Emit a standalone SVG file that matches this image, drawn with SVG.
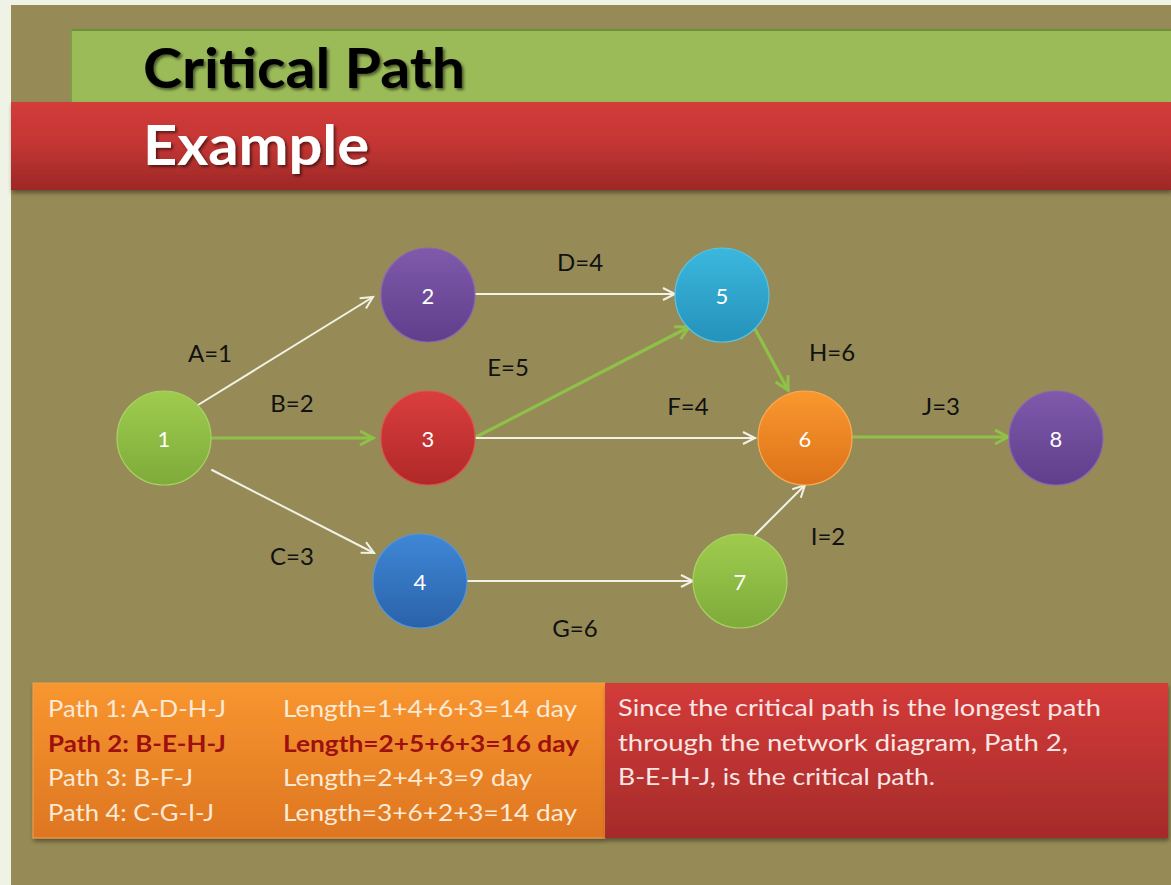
<svg xmlns="http://www.w3.org/2000/svg" width="1171" height="885" viewBox="0 0 1171 885">
  <style>
    .title { font-family: Lato, "Liberation Sans", sans-serif; font-weight: bold; font-size: 56px; }
    .edge-label { font-family: Lato, "Liberation Sans", sans-serif; font-size: 24px; fill: #111111; text-anchor: middle; }
    .node-label { font-family: Lato, "Liberation Sans", sans-serif; font-size: 22px; fill: #ffffff; text-anchor: middle; dominant-baseline: central; }
    .panel-text { font-family: Lato, "Liberation Sans", sans-serif; font-size: 23px; fill: #fce9d6; }
    .panel-bold { font-family: Lato, "Liberation Sans", sans-serif; font-size: 23px; font-weight: bold; fill: #9c1010; }
    .note-text { font-family: Lato, "Liberation Sans", sans-serif; font-size: 23px; fill: #f9e6e4; }
    .edge { fill: none; stroke-linecap: round; }
    .edge-plain { stroke: #f2f1e6; stroke-width: 2; marker-end: url(#arrowWhite); }
    .edge-crit { stroke: #8fc14a; stroke-width: 3.2; marker-end: url(#arrowGreen); }
    .node circle { stroke-width: 1.2; }
  </style>
  <defs>
    <linearGradient id="gRedBanner" x1="0" y1="0" x2="0" y2="1">
      <stop offset="0" stop-color="#d23c3a"/>
      <stop offset="0.45" stop-color="#c53634"/>
      <stop offset="1" stop-color="#9d2826"/>
    </linearGradient>
    <linearGradient id="gOrangeBox" x1="0" y1="0" x2="0" y2="1">
      <stop offset="0" stop-color="#f8962f"/>
      <stop offset="1" stop-color="#de7621"/>
    </linearGradient>
    <linearGradient id="gRedBox" x1="0" y1="0" x2="0" y2="1">
      <stop offset="0" stop-color="#d43b39"/>
      <stop offset="1" stop-color="#a52b2a"/>
    </linearGradient>
    <linearGradient id="nGreen" x1="0" y1="0" x2="0" y2="1">
      <stop offset="0" stop-color="#9fcc4e"/>
      <stop offset="1" stop-color="#7eab3a"/>
    </linearGradient>
    <linearGradient id="nPurple" x1="0" y1="0" x2="0" y2="1">
      <stop offset="0" stop-color="#8059ab"/>
      <stop offset="1" stop-color="#5f3f8b"/>
    </linearGradient>
    <linearGradient id="nRed" x1="0" y1="0" x2="0" y2="1">
      <stop offset="0" stop-color="#da3e3d"/>
      <stop offset="1" stop-color="#b02829"/>
    </linearGradient>
    <linearGradient id="nBlue" x1="0" y1="0" x2="0" y2="1">
      <stop offset="0" stop-color="#3f87d6"/>
      <stop offset="1" stop-color="#2a62a9"/>
    </linearGradient>
    <linearGradient id="nCyan" x1="0" y1="0" x2="0" y2="1">
      <stop offset="0" stop-color="#3bb7dd"/>
      <stop offset="1" stop-color="#2592bb"/>
    </linearGradient>
    <linearGradient id="nOrange" x1="0" y1="0" x2="0" y2="1">
      <stop offset="0" stop-color="#fa982f"/>
      <stop offset="1" stop-color="#dc7219"/>
    </linearGradient>
    <filter id="textShadow" x="-10%" y="-20%" width="120%" height="150%">
      <feGaussianBlur in="SourceAlpha" stdDeviation="1.6"/>
      <feOffset dx="1.5" dy="2" result="b"/>
      <feComponentTransfer><feFuncA type="linear" slope="0.55"/></feComponentTransfer>
      <feMerge><feMergeNode/><feMergeNode in="SourceGraphic"/></feMerge>
    </filter>
    <filter id="boxShadow" x="-5%" y="-10%" width="110%" height="130%">
      <feGaussianBlur in="SourceAlpha" stdDeviation="2"/>
      <feOffset dx="1" dy="3"/>
      <feComponentTransfer><feFuncA type="linear" slope="0.4"/></feComponentTransfer>
      <feMerge><feMergeNode/><feMergeNode in="SourceGraphic"/></feMerge>
    </filter>
    <marker id="arrowWhite" markerUnits="userSpaceOnUse" markerWidth="18" markerHeight="18" refX="15" refY="9" orient="auto">
      <path d="M3,3 L15,9 L3,15" fill="none" stroke="#f2f1e6" stroke-width="2" stroke-linejoin="miter"/>
    </marker>
    <marker id="arrowGreen" markerUnits="userSpaceOnUse" markerWidth="20" markerHeight="20" refX="16" refY="10" orient="auto">
      <path d="M3,3 L16,10 L3,17" fill="none" stroke="#8fc14a" stroke-width="3" stroke-linejoin="miter"/>
    </marker>
  </defs>

  <!-- page and slide background -->
  <rect x="0" y="0" width="1171" height="885" fill="#eef3e6"/>
  <rect x="11" y="5" width="1160" height="880" fill="#968b56"/>

  <!-- title banners -->
  <g id="title">
    <rect x="70" y="29" width="1101" height="74" fill="#9bbb59"/>
    <rect x="70" y="29" width="1101" height="2" fill="#6f8e3c"/>
    <rect x="70" y="29" width="2" height="74" fill="#7f9d46"/>
    <rect x="11" y="102" width="1160" height="88" fill="url(#gRedBanner)" filter="url(#boxShadow)"/>
    <text class="title" x="143" y="88" fill="#000000" textLength="322" lengthAdjust="spacingAndGlyphs" filter="url(#textShadow)">Critical Path</text>
    <text class="title" x="143" y="165" fill="#ffffff" textLength="226" lengthAdjust="spacingAndGlyphs" filter="url(#textShadow)">Example</text>
  </g>

  <!-- activity arrows -->
  <g id="connectors">
    <line class="edge edge-plain" x1="198" y1="405" x2="373" y2="297"/>
    <line class="edge edge-crit" x1="211" y1="438" x2="373" y2="438"/>
    <line class="edge edge-plain" x1="212" y1="470" x2="374" y2="553"/>
    <line class="edge edge-plain" x1="475" y1="294" x2="675" y2="294"/>
    <line class="edge edge-crit" x1="476" y1="437" x2="689" y2="327"/>
    <line class="edge edge-plain" x1="476" y1="438" x2="755" y2="438"/>
    <line class="edge edge-crit" x1="755" y1="329" x2="788" y2="390"/>
    <line class="edge edge-plain" x1="467" y1="581" x2="693" y2="581"/>
    <line class="edge edge-plain" x1="755" y1="535" x2="805" y2="485"/>
    <line class="edge edge-crit" x1="852" y1="437" x2="1008" y2="437"/>

    <text class="edge-label" x="210" y="362">A=1</text>
    <text class="edge-label" x="292" y="412">B=2</text>
    <text class="edge-label" x="292" y="565">C=3</text>
    <text class="edge-label" x="580" y="271">D=4</text>
    <text class="edge-label" x="508" y="376">E=5</text>
    <text class="edge-label" x="688" y="415">F=4</text>
    <text class="edge-label" x="575" y="637">G=6</text>
    <text class="edge-label" x="832" y="361">H=6</text>
    <text class="edge-label" x="828" y="545">I=2</text>
    <text class="edge-label" x="941" y="415">J=3</text>
  </g>

  <!-- event nodes -->
  <g id="node1" class="node">
    <circle cx="164" cy="438" r="47" fill="url(#nGreen)" stroke="#a8d264"/>
    <text class="node-label" x="164" y="438">1</text>
  </g>
  <g id="node2" class="node">
    <circle cx="428" cy="295" r="47" fill="url(#nPurple)" stroke="#8a66b2"/>
    <text class="node-label" x="428" y="295">2</text>
  </g>
  <g id="node3" class="node">
    <circle cx="428" cy="438" r="47" fill="url(#nRed)" stroke="#de5250"/>
    <text class="node-label" x="428" y="438">3</text>
  </g>
  <g id="node4" class="node">
    <circle cx="420" cy="581" r="47" fill="url(#nBlue)" stroke="#5596da"/>
    <text class="node-label" x="420" y="581">4</text>
  </g>
  <g id="node5" class="node">
    <circle cx="722" cy="295" r="47" fill="url(#nCyan)" stroke="#5cc3e2"/>
    <text class="node-label" x="722" y="295">5</text>
  </g>
  <g id="node6" class="node">
    <circle cx="805" cy="438" r="47" fill="url(#nOrange)" stroke="#fbab55"/>
    <text class="node-label" x="805" y="438">6</text>
  </g>
  <g id="node7" class="node">
    <circle cx="740" cy="581" r="47" fill="url(#nGreen)" stroke="#a8d264"/>
    <text class="node-label" x="740" y="581">7</text>
  </g>
  <g id="node8" class="node">
    <circle cx="1056" cy="438" r="47" fill="url(#nPurple)" stroke="#8a66b2"/>
    <text class="node-label" x="1056" y="438">8</text>
  </g>

  <!-- path summary table -->
  <g id="paths">
    <rect x="33" y="683" width="572" height="155" fill="url(#gOrangeBox)" stroke="#f0a050" stroke-width="1" filter="url(#boxShadow)"/>
    <text class="panel-text" x="48" y="717" textLength="178" lengthAdjust="spacingAndGlyphs">Path 1: A-D-H-J</text>
    <text class="panel-bold" x="48" y="752" textLength="178" lengthAdjust="spacingAndGlyphs">Path 2: B-E-H-J</text>
    <text class="panel-text" x="48" y="786" textLength="145" lengthAdjust="spacingAndGlyphs">Path 3: B-F-J</text>
    <text class="panel-text" x="48" y="821" textLength="166" lengthAdjust="spacingAndGlyphs">Path 4: C-G-I-J</text>
    <text class="panel-text" x="283" y="717" textLength="294" lengthAdjust="spacingAndGlyphs">Length=1+4+6+3=14 day</text>
    <text class="panel-bold" x="283" y="752" textLength="296" lengthAdjust="spacingAndGlyphs">Length=2+5+6+3=16 day</text>
    <text class="panel-text" x="283" y="786" textLength="249" lengthAdjust="spacingAndGlyphs">Length=2+4+3=9 day</text>
    <text class="panel-text" x="283" y="821" textLength="294" lengthAdjust="spacingAndGlyphs">Length=3+6+2+3=14 day</text>
  </g>

  <!-- conclusion note -->
  <g id="note">
    <rect x="605" y="683" width="563" height="155" fill="url(#gRedBox)" filter="url(#boxShadow)"/>
    <text class="note-text" x="618" y="716" textLength="483" lengthAdjust="spacingAndGlyphs">Since the critical path is the longest path</text>
    <text class="note-text" x="618" y="751" textLength="450" lengthAdjust="spacingAndGlyphs">through the network diagram, Path 2,</text>
    <text class="note-text" x="618" y="785" textLength="317" lengthAdjust="spacingAndGlyphs">B-E-H-J, is the critical path.</text>
  </g>
</svg>
